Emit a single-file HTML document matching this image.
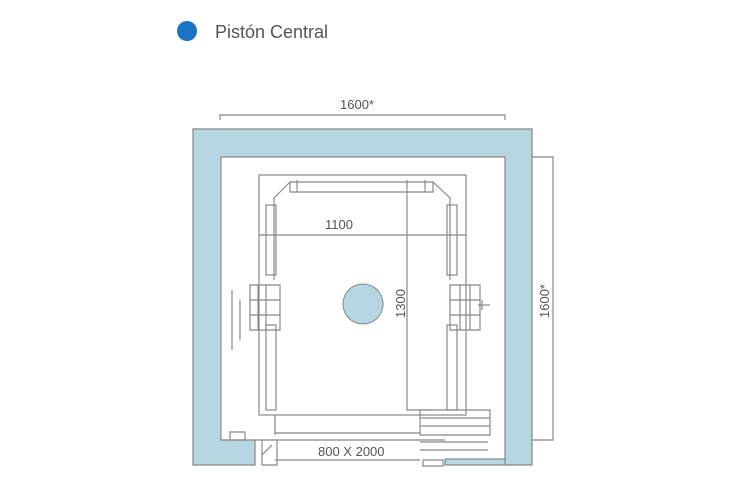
<!DOCTYPE html><html><head><style>body{margin:0;background:#fff}svg{display:block}</style></head><body>
<svg width="750" height="500" viewBox="0 0 750 500" font-family="Liberation Sans, sans-serif">
<circle cx="187" cy="31" r="10" fill="#1a73c4"/>
<text x="215" y="38" font-size="18" fill="#555">Pistón Central</text>
<g stroke="#888" stroke-width="1.2" fill="none">
<path d="M193 129H532V465H505V157H221V440H255V465H193Z" fill="#b6d7e1"/>
<rect x="445" y="459" width="60" height="6" fill="#b6d7e1"/>
<path d="M220 120V115H505V120"/>
<path d="M532 157H553V440H532"/>
<rect x="259" y="175" width="207" height="240"/>
<path d="M290 182H433V192H290Z M297 180v12 M425 180v12"/>
<path d="M290 182L274 198V280 M433 182L450 198V280"/>
<rect x="266" y="205" width="10" height="70"/><rect x="447" y="205" width="10" height="70"/>
<rect x="266" y="325" width="10" height="85"/><rect x="447" y="325" width="10" height="85"/>
<path d="M259 235H466"/>
<path d="M407 180V410H430"/>
<path d="M250 285h30v45h-30z M258 285v45 M266 285v45 M250 300h30 M250 315h30"/>
<path d="M450 285h30v45h-30z M460 285v45 M470 285v45 M450 300h30 M450 315h30 M482 300v10 M478 305h12"/>
<path d="M232 290v60 M240 300v40"/>
<path d="M275 415v20 M275 433H420 M255 440H445 M275 460H420"/>
<path d="M420 410h70v25h-70z M420 418h70 M420 426h70 M420 442h68 M420 450h68"/>
<path d="M262 440v25h15v-25 M262 455l10-10"/>
<path d="M230 432h15v8h-15z"/>
<path d="M423 460h20v6h-20z"/>
</g>
<circle cx="363" cy="304" r="20" fill="#b6d7e1" stroke="#888"/>
<g fill="#555" font-size="13">
<text x="340" y="109">1600*</text>
<text x="325" y="229">1100</text>
<text x="318" y="456">800 X 2000</text>
<text transform="translate(405,318) rotate(-90)">1300</text>
<text transform="translate(549,318) rotate(-90)">1600*</text>
</g>
</svg></body></html>
